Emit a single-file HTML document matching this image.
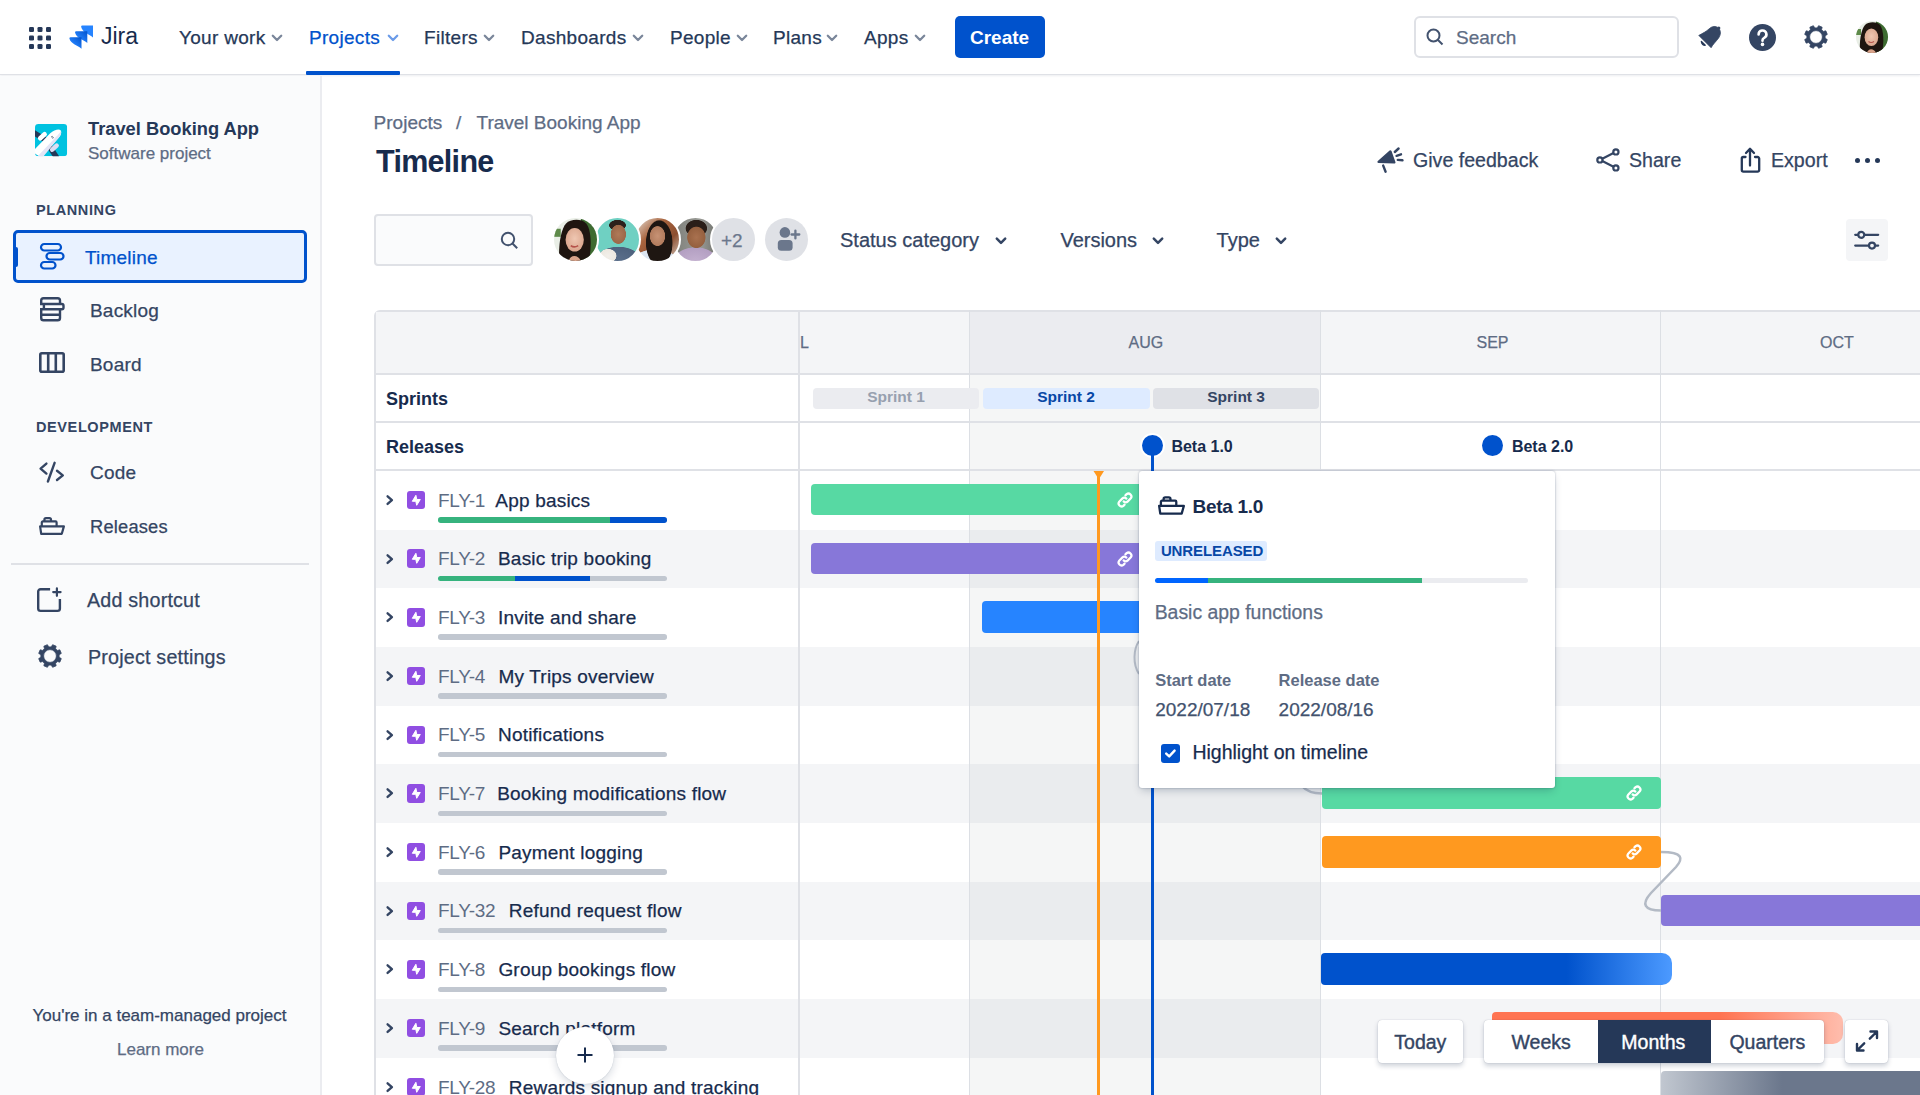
<!DOCTYPE html>
<html><head><meta charset="utf-8">
<style>
*{box-sizing:border-box;margin:0;padding:0}
html,body{width:1920px;height:1095px;overflow:hidden;background:#fff;font-family:"Liberation Sans",sans-serif;color:#172B4D}
.a{position:absolute}
.t{position:absolute;white-space:nowrap;line-height:1;-webkit-text-stroke:.25px currentColor}
svg{position:absolute;overflow:visible}
/* nav */
#nav{position:absolute;left:0;top:0;width:1920px;height:75px;background:#fff;border-bottom:1px solid #DFE1E6;box-shadow:0 1px 2px rgba(9,30,66,.08)}
.ni{font-size:19px;color:#253858;top:28px;letter-spacing:.3px}
.chev{width:11px;height:7px}
/* sidebar */
#side{position:absolute;left:0;top:76px;width:322px;height:1019px;background:#FAFBFC;border-right:2px solid #EBECF0}
.si{font-size:19px;color:#344563;letter-spacing:.2px}
.sh{font-size:14.5px;font-weight:700;color:#344563;letter-spacing:.6px}
.ab{font-size:19.6px;color:#344563;top:151px}
.av{position:absolute;top:218px;width:43px;height:43px;border-radius:50%;border:2px solid #fff;box-sizing:content-box;margin:-2px 0 0 -2px}
.fb{font-size:20px;color:#344563;top:230px}
.t[style*="font-weight:700"],.sh,.sp{-webkit-text-stroke:0}
</style></head>
<body>
<div id="nav">
  <!-- app grid -->
  <svg style="left:29px;top:27px" width="22" height="22" viewBox="0 0 22 22" fill="#253858">
    <rect x="0" y="0" width="5" height="5" rx="1.3"/><rect x="8.5" y="0" width="5" height="5" rx="1.3"/><rect x="17" y="0" width="5" height="5" rx="1.3"/>
    <rect x="0" y="8.5" width="5" height="5" rx="1.3"/><rect x="8.5" y="8.5" width="5" height="5" rx="1.3"/><rect x="17" y="8.5" width="5" height="5" rx="1.3"/>
    <rect x="0" y="17" width="5" height="5" rx="1.3"/><rect x="8.5" y="17" width="5" height="5" rx="1.3"/><rect x="17" y="17" width="5" height="5" rx="1.3"/>
  </svg>
  <!-- jira logo -->
  <svg style="left:0;top:0" width="160" height="75" viewBox="0 0 160 75">
    <defs><linearGradient id="jg" x1="1" y1="0" x2="0.3" y2="0.7"><stop offset="0" stop-color="#0052CC"/><stop offset="1" stop-color="#2684FF"/></linearGradient></defs><path d="M82.30 25.40H93.00V37.50C89.43 33.87 82.53 32.90 81.10 26.70Q81.10 25.40 82.30 25.40z" fill="#2684FF"/><path d="M76.20 31.25H87.30V43.10C83.61 39.55 76.48 38.60 75.00 32.55Q75.00 31.25 76.20 31.25z" fill="url(#jg)"/><path d="M70.60 37.30H81.50V48.75C77.87 45.31 70.85 44.40 69.40 38.60Q69.40 37.30 70.60 37.30z" fill="url(#jg)"/></svg>
  <div class="t" style="left:101px;top:25.3px;font-size:23px;color:#172B4D;-webkit-text-stroke:0">Jira</div>
  <div class="t ni" style="left:179px">Your work</div>
  <div class="t ni" style="left:309px;color:#0052CC">Projects</div>
  <div class="t ni" style="left:424px">Filters</div>
  <div class="t ni" style="left:521px">Dashboards</div>
  <div class="t ni" style="left:670px">People</div>
  <div class="t ni" style="left:773px">Plans</div>
  <div class="t ni" style="left:864px">Apps</div>
  <div class="a" style="left:306px;top:71px;width:94px;height:4px;background:#0052CC;border-radius:1px"></div>
  <div class="a" style="left:955px;top:16px;width:90px;height:42px;background:#0052CC;border-radius:5px"></div>
  <div class="t" style="left:970px;top:28px;font-size:19px;font-weight:700;color:#fff">Create</div>
<svg style="left:271px;top:34px" width="12" height="8" viewBox="0 0 12 8" fill="none" stroke="#7A869A" stroke-width="2.3" stroke-linecap="round" stroke-linejoin="round"><path d="M1.8 1.8L6 6L10.2 1.8"/></svg><svg style="left:386.5px;top:34px" width="12" height="8" viewBox="0 0 12 8" fill="none" stroke="#6B9BE8" stroke-width="2.3" stroke-linecap="round" stroke-linejoin="round"><path d="M1.8 1.8L6 6L10.2 1.8"/></svg><svg style="left:483px;top:34px" width="12" height="8" viewBox="0 0 12 8" fill="none" stroke="#7A869A" stroke-width="2.3" stroke-linecap="round" stroke-linejoin="round"><path d="M1.8 1.8L6 6L10.2 1.8"/></svg><svg style="left:632px;top:34px" width="12" height="8" viewBox="0 0 12 8" fill="none" stroke="#7A869A" stroke-width="2.3" stroke-linecap="round" stroke-linejoin="round"><path d="M1.8 1.8L6 6L10.2 1.8"/></svg><svg style="left:735.5px;top:34px" width="12" height="8" viewBox="0 0 12 8" fill="none" stroke="#7A869A" stroke-width="2.3" stroke-linecap="round" stroke-linejoin="round"><path d="M1.8 1.8L6 6L10.2 1.8"/></svg><svg style="left:826px;top:34px" width="12" height="8" viewBox="0 0 12 8" fill="none" stroke="#7A869A" stroke-width="2.3" stroke-linecap="round" stroke-linejoin="round"><path d="M1.8 1.8L6 6L10.2 1.8"/></svg><svg style="left:914px;top:34px" width="12" height="8" viewBox="0 0 12 8" fill="none" stroke="#7A869A" stroke-width="2.3" stroke-linecap="round" stroke-linejoin="round"><path d="M1.8 1.8L6 6L10.2 1.8"/></svg>
  <svg style="left:0;top:0" width="1920" height="75" viewBox="0 0 1920 75">
    <path d="M1698.8 35.4C1703 33.2 1706.2 31.6 1709.2 28.8C1712.2 26 1716 25.6 1718.6 28.2C1721.2 30.8 1720.8 35 1718.6 38C1715.6 42 1713 44.2 1711.1 47.7Z" fill="#344563" stroke="#344563" stroke-width="0.8" stroke-linejoin="round"/>
    <circle cx="1718.8" cy="28" r="1.6" fill="#344563"/>
    <path d="M1701.4 41.6C1701.4 44 1703.6 45.4 1705.2 45.2Z" fill="#253858" stroke="#253858" stroke-width="1.4" stroke-linejoin="round"/>
  </svg>
  <div class="a" style="left:1749px;top:24px;width:27px;height:27px;border-radius:50%;background:#344563"></div>
  <svg style="left:1749px;top:24px" width="27" height="27" viewBox="0 0 27 27" fill="none" stroke="#fff" stroke-width="2.6" stroke-linecap="round">
    <path d="M9.6 10.4a3.9 3.9 0 1 1 5.6 3.5c-1 .5-1.7 1.2-1.7 2.3v.6"/>
    <circle cx="13.5" cy="20.4" r="1.8" fill="#fff" stroke="none"/>
  </svg>
  <svg style="left:1803.5px;top:24.6px" width="24" height="24" viewBox="0 0 24 24">
    <path fill="#344563" fill-rule="evenodd" stroke="#344563" stroke-width="0.8" stroke-linejoin="round" d="M13.22 2.88 L14.62 0.70 L18.14 2.16 L17.58 4.69 L19.31 6.42 L21.84 5.86 L23.30 9.38 L21.12 10.78 L21.12 13.22 L23.30 14.62 L21.84 18.14 L19.31 17.58 L17.58 19.31 L18.14 21.84 L14.62 23.30 L13.22 21.12 L10.78 21.12 L9.38 23.30 L5.86 21.84 L6.42 19.31 L4.69 17.58 L2.16 18.14 L0.70 14.62 L2.88 13.22 L2.88 10.78 L0.70 9.38 L2.16 5.86 L4.69 6.42 L6.42 4.69 L5.86 2.16 L9.38 0.70 L10.78 2.88ZM5.60 12.00a6.4 6.4 0 1 0 12.80 0a6.4 6.4 0 1 0 -12.80 0z"/>
  </svg>
  <svg style="left:1856px;top:21px" width="32" height="32" viewBox="0 0 32 32"><defs><clipPath id="avn"><circle cx="16" cy="16" r="16"/></clipPath><radialGradient id="avnf" cx="0.5" cy="0.45" r="0.6"><stop offset="0" stop-color="#EFC7B2"/><stop offset="1" stop-color="#D9A38A"/></radialGradient></defs><g clip-path="url(#avn)"><rect width="32" height="32" fill="#E9EEE6"/><rect x="20" y="0" width="12" height="32" fill="#3E6B31"/><rect x="0" y="8" width="5" height="6" fill="#5E8A4A"/><path d="M4 32C3 22 5 8 9 4C12 1 20 0 24 4C28 9 28 22 26 32z" fill="#1F1510"/><ellipse cx="15.4" cy="16.2" rx="6.8" ry="8.8" fill="url(#avnf)"/><path d="M11 32C12 27 18 27 20 32z" fill="#D9A38A"/><path d="M12.5 20.5Q15 22.5 18 20.5" stroke="#B5524A" stroke-width="1.2" fill="none"/></g></svg>
  <!-- search -->
  <div class="a" style="left:1414px;top:16px;width:265px;height:42px;border:2px solid #DFE1E6;border-radius:6px;background:#fff"></div>
  <svg style="left:1426px;top:28px" width="18" height="18" viewBox="0 0 18 18" fill="none" stroke="#42526E" stroke-width="2"><circle cx="7.5" cy="7.5" r="6"/><path d="M12 12l4.5 4.5"/></svg>
  <div class="t" style="left:1456px;top:28px;font-size:19px;color:#5E6C84">Search</div>
</div>

<div id="side"></div>
<!-- project icon -->
<svg style="left:34.8px;top:123.9px" width="32.2" height="32.2" viewBox="0 0 32.2 32.2">
  <defs><clipPath id="pc"><rect width="32.2" height="32.2" rx="3.5"/></clipPath></defs>
  <g clip-path="url(#pc)">
  <rect width="32.2" height="32.2" fill="#00C2E0"/>
  <line x1="-3" y1="7.5" x2="13" y2="17.5" stroke="#253858" stroke-width="5.5"/>
  <line x1="13.5" y1="21" x2="22" y2="34" stroke="#253858" stroke-width="5.5"/>
  <line x1="5.2" y1="14.2" x2="9.6" y2="10.2" stroke="#fff" stroke-width="4.6" stroke-linecap="round"/>
  <line x1="17.2" y1="25.6" x2="21.6" y2="21.6" stroke="#DCDDF3" stroke-width="4.6" stroke-linecap="round"/>
  <path d="M-3 28L15 9.6C19 5.8 24 4.6 25.6 6.2C27 7.8 26 11.5 24 13.5L6 33z" fill="#fff"/>
  <path d="M2 33L19.5 14.5C22.5 11.5 25.5 8.5 25.8 6.8C26.8 9 25.5 12 23.5 14L8 33z" fill="#E3E5F6"/>
  <line x1="16.6" y1="12.4" x2="18.6" y2="14.4" stroke="#42526E" stroke-width="1.6" stroke-dasharray="0.9 0.6"/>
  </g>
</svg>
<div class="t" style="left:88px;top:120px;font-size:18.3px;font-weight:700;color:#253858">Travel Booking App</div>
<div class="t" style="left:88px;top:145px;font-size:17px;color:#5E6C84">Software project</div>
<div class="t sh" style="left:36px;top:203px">PLANNING</div>
<div class="a" style="left:13px;top:230px;width:294px;height:53px;border:3px solid #0052CC;border-radius:5px;background:#E9F2FF"></div>
<div class="a" style="left:14px;top:247px;width:4px;height:20px;background:#0052CC;border-radius:0 2px 2px 0"></div>
<svg style="left:39px;top:242px" width="26" height="29" viewBox="0 0 26 29" fill="none" stroke="#0052CC" stroke-width="2.2">
  <rect x="2" y="2" width="20" height="6.5" rx="3.25"/><rect x="7.5" y="11" width="17" height="6.5" rx="3.25"/><rect x="2" y="20" width="14.5" height="6.5" rx="3.25"/>
</svg>
<div class="t si" style="left:85px;top:247.5px;color:#0052CC">Timeline</div>
<svg style="left:40px;top:297px" width="25" height="25" viewBox="0 0 25 25" fill="none" stroke="#344563" stroke-width="2.4" stroke-linejoin="round"><path d="M1.2 7V3.5a2.3 2.3 0 0 1 2.3-2.3h14.2a2.3 2.3 0 0 1 2.3 2.3V7"/><path d="M0 7H21.8a1.7 1.7 0 0 1 1.7 1.7v1.8a1.7 1.7 0 0 1-1.7 1.7H0M3.9 7V12.2"/><path d="M1.2 12.2V20.9a2.3 2.3 0 0 0 2.3 2.3h14.2a2.3 2.3 0 0 0 2.3-2.3V12.2M1.2 17.7H20"/></svg>
<div class="t si" style="left:90px;top:301.3px">Backlog</div>
<svg style="left:39px;top:352px" width="26" height="21" viewBox="0 0 26 21" fill="none" stroke="#344563" stroke-width="2.6">
  <rect x="1.3" y="1.3" width="23.4" height="18.4" rx="1.5"/><path d="M9.2 1.3v18.4M16.8 1.3v18.4"/>
</svg>
<div class="t si" style="left:90px;top:355px">Board</div>
<div class="t sh" style="left:36px;top:420.2px">DEVELOPMENT</div>
<svg style="left:0;top:0" width="100" height="600" viewBox="0 0 100 600" fill="none" stroke="#344563" stroke-width="2.4" stroke-linecap="round" stroke-linejoin="round"><path d="M46.4 463.6L40.6 468.6L46.4 473.6M57 470.8L62.8 475.4L57 480M54.6 462.8L47.9 481.5"/></svg>
<div class="t si" style="left:90px;top:463.4px">Code</div>
<svg style="left:39px;top:516.5px" width="26" height="18" viewBox="0 0 26 18" fill="none" stroke="#344563" stroke-width="2.2" stroke-linejoin="round"><path d="M5.4 4.4V2.8a1.6 1.6 0 0 1 1.6-1.6h3.4a1.6 1.6 0 0 1 1.6 1.6V4.4"/><path d="M2.8 9.4V5.4a1 1 0 0 1 1-1H16.6a1 1 0 0 1 1 1V9.4"/><path d="M1.1 9.4H24.9L22.8 16.8H2.2z"/></svg>
<div class="t si" style="left:90px;top:517.5px;font-size:18.3px">Releases</div>
<div class="a" style="left:11px;top:563px;width:298px;height:2px;background:#DFE1E6"></div>
<svg style="left:37.3px;top:588px" width="25" height="25" viewBox="0 0 25 25" fill="none" stroke="#344563" stroke-width="2.4" stroke-linecap="butt"><path d="M13.1 1.2H3.6a2.4 2.4 0 0 0-2.4 2.4v16.9a2.4 2.4 0 0 0 2.4 2.4h16.9a2.4 2.4 0 0 0 2.4-2.4V11"/><path d="M19.9 0.4v7.4M16.2 4.1h7.4" stroke-width="2.2" stroke-linecap="round"/></svg>
<div class="t si" style="left:87px;top:591.4px;font-size:19.7px">Add shortcut</div>
<svg style="left:38.3px;top:643.5px" width="24" height="24" viewBox="0 0 24 24">
  <path fill="#344563" fill-rule="evenodd" stroke="#344563" stroke-width="0.8" stroke-linejoin="round" d="M13.22 2.88 L14.62 0.70 L18.14 2.16 L17.58 4.69 L19.31 6.42 L21.84 5.86 L23.30 9.38 L21.12 10.78 L21.12 13.22 L23.30 14.62 L21.84 18.14 L19.31 17.58 L17.58 19.31 L18.14 21.84 L14.62 23.30 L13.22 21.12 L10.78 21.12 L9.38 23.30 L5.86 21.84 L6.42 19.31 L4.69 17.58 L2.16 18.14 L0.70 14.62 L2.88 13.22 L2.88 10.78 L0.70 9.38 L2.16 5.86 L4.69 6.42 L6.42 4.69 L5.86 2.16 L9.38 0.70 L10.78 2.88ZM5.60 12.00a6.4 6.4 0 1 0 12.80 0a6.4 6.4 0 1 0 -12.80 0z"/>
</svg>
<div class="t si" style="left:88px;top:647.6px;font-size:19.7px">Project settings</div>
<div class="t" style="left:32.5px;top:1007.2px;font-size:17px;color:#344563">You're in a team-managed project</div>
<div class="t" style="left:117px;top:1041.4px;font-size:17px;color:#5E6C84;font-weight:400">Learn more</div>

<div id="main">
<div class="t" style="left:373.6px;top:113.2px;font-size:19px;color:#5E6C84">Projects</div>
<div class="t" style="left:456px;top:113.2px;font-size:19px;color:#5E6C84">/</div>
<div class="t" style="left:476.5px;top:113.2px;font-size:19px;color:#5E6C84">Travel Booking App</div>
<div class="t" style="left:376px;top:145.6px;font-size:30.5px;font-weight:700;color:#172B4D;letter-spacing:-.7px">Timeline</div>
<!-- actions -->
<svg style="left:1376px;top:146px" width="28" height="28" viewBox="1376 146 28 28" fill="none" stroke="#344563" stroke-width="2.4" stroke-linecap="round">
  <path d="M1378.6 161.8L1390.4 151.5L1394.3 162.3z" fill="#344563" stroke-linejoin="round"/>
  <path d="M1383.2 165.6L1385.6 171.7M1394.8 152L1398.6 148.5M1396.6 155.8L1401 154.3M1397.8 159.9L1402.5 160.3"/>
</svg>
<div class="t ab" style="left:1413px">Give feedback</div>
<svg style="left:1594px;top:146px" width="28" height="28" viewBox="1594 146 28 28" fill="none" stroke="#344563" stroke-width="2.2">
  <circle cx="1599.9" cy="159.9" r="2.6"/><circle cx="1615.9" cy="151.9" r="2.6"/><circle cx="1615.9" cy="167.9" r="2.6"/><path d="M1602.3 158.7L1613.5 153.1M1602.3 161.1L1613.5 166.7"/>
</svg>
<div class="t ab" style="left:1629px">Share</div>
<svg style="left:1738px;top:146px" width="24" height="28" viewBox="1738 146 24 28" fill="none" stroke="#253858" stroke-width="2.3" stroke-linecap="round" stroke-linejoin="round">
  <path d="M1745.5 157H1743.3a1.6 1.6 0 0 0-1.5 1.6v11.5a1.6 1.6 0 0 0 1.6 1.6h14.2a1.6 1.6 0 0 0 1.6-1.6V158.6a1.6 1.6 0 0 0-1.6-1.6H1755"/><path d="M1750 165.5V148.8M1746 153L1750 148.8L1754 153"/>
</svg>
<div class="t ab" style="left:1771px">Export</div>
<div class="a" style="left:1855px;top:157.5px;width:5px;height:5px;border-radius:50%;background:#253858"></div>
<div class="a" style="left:1865px;top:157.5px;width:5px;height:5px;border-radius:50%;background:#253858"></div>
<div class="a" style="left:1875px;top:157.5px;width:5px;height:5px;border-radius:50%;background:#253858"></div>
<!-- filter row -->
<div class="a" style="left:374px;top:214px;width:159px;height:52px;border:2px solid #DFE1E6;border-radius:4px;background:#FAFBFC"></div>
<svg style="left:500px;top:231px" width="19" height="19" viewBox="0 0 19 19" fill="none" stroke="#42526E" stroke-width="2"><circle cx="8" cy="8" r="6.2"/><path d="M12.5 12.5L17.2 17.2"/></svg>
<div class="av" style="left:674px;background:radial-gradient(ellipse 24% 28% at 52% 45%,#A9714F 0,#95603F 85%,transparent 92%),radial-gradient(ellipse 28% 22% at 52% 24%,#2A1E18 0,#2A1E18 85%,transparent 92%),radial-gradient(ellipse 55% 35% at 50% 100%,#C3B0CF 0,#B39FC2 88%,transparent 93%),linear-gradient(90deg,#7D7F7A 0,#9A9B96 60%,#6F716C 100%)"></div>
<div class="av" style="left:636px;background:radial-gradient(ellipse 20% 26% at 50% 42%,#C79274 0,#B27C5E 85%,transparent 92%),radial-gradient(ellipse 34% 58% at 54% 58%,#1E1612 0,#1E1612 88%,transparent 93%),radial-gradient(ellipse 55% 30% at 45% 100%,#DCE6F2 0,#DCE6F2 88%,transparent 93%),linear-gradient(135deg,#E8E2DA 0,#A8643E 35%,#8C4E30 65%,#D9CFC4 100%)"></div>
<div class="av" style="left:596px;background:radial-gradient(ellipse 20% 25% at 52% 38%,#B07A58 0,#9C6849 85%,transparent 92%),radial-gradient(ellipse 22% 14% at 50% 17%,#2B211C 0,#2B211C 85%,transparent 92%),radial-gradient(ellipse 22% 18% at 28% 88%,#F2EFEA 0,#EDE8E0 85%,transparent 92%),radial-gradient(ellipse 55% 32% at 52% 96%,#5A6E8A 0,#4E627E 88%,transparent 93%),#6FD0C2"></div>
<div class="av" style="left:554px;background:#fff"></div><svg style="left:554px;top:218px" width="43" height="43" viewBox="0 0 32 32"><defs><clipPath id="av1"><circle cx="16" cy="16" r="16"/></clipPath><radialGradient id="av1f" cx="0.5" cy="0.45" r="0.6"><stop offset="0" stop-color="#EFC7B2"/><stop offset="1" stop-color="#D9A38A"/></radialGradient></defs><g clip-path="url(#av1)"><rect width="32" height="32" fill="#E9EEE6"/><rect x="20" y="0" width="12" height="32" fill="#3E6B31"/><rect x="0" y="8" width="5" height="6" fill="#5E8A4A"/><path d="M4 32C3 22 5 8 9 4C12 1 20 0 24 4C28 9 28 22 26 32z" fill="#1F1510"/><ellipse cx="15.4" cy="16.2" rx="6.8" ry="8.8" fill="url(#av1f)"/><path d="M11 32C12 27 18 27 20 32z" fill="#D9A38A"/><path d="M12.5 20.5Q15 22.5 18 20.5" stroke="#B5524A" stroke-width="1.2" fill="none"/></g></svg>
<div class="av" style="left:712px;background:#DFE1E6"></div>
<div class="t" style="left:721px;top:231px;font-size:19px;color:#6B778C">+2</div>
<div class="a" style="left:765px;top:218px;width:43px;height:43px;border-radius:50%;background:#DFE1E6"></div>
<svg style="left:776px;top:227px" width="26" height="26" viewBox="0 0 26 26" fill="#6B778C"><circle cx="8.9" cy="5.4" r="5.3"/><rect x="1.8" y="13.1" width="14.8" height="10.6" rx="3.5"/><path d="M19.4 3.6v7.8M15.5 7.5h7.8" stroke="#6B778C" stroke-width="2.3" stroke-linecap="round"/></svg>
<div class="t fb" style="left:840px">Status category</div>
<div class="t fb" style="left:1060.4px">Versions</div>
<div class="t fb" style="left:1216.6px">Type</div>
<svg style="left:995px;top:236px" width="12" height="10" viewBox="0 0 12 10" fill="none" stroke="#344563" stroke-width="2.5" stroke-linecap="round" stroke-linejoin="round"><path d="M1.8 2.6L6 6.8L10.2 2.6"/></svg>
<svg style="left:1152px;top:236px" width="12" height="10" viewBox="0 0 12 10" fill="none" stroke="#344563" stroke-width="2.5" stroke-linecap="round" stroke-linejoin="round"><path d="M1.8 2.6L6 6.8L10.2 2.6"/></svg>
<svg style="left:1275px;top:236px" width="12" height="10" viewBox="0 0 12 10" fill="none" stroke="#344563" stroke-width="2.5" stroke-linecap="round" stroke-linejoin="round"><path d="M1.8 2.6L6 6.8L10.2 2.6"/></svg>
<div class="a" style="left:1845.7px;top:219px;width:42.2px;height:42.2px;border-radius:4px;background:#F4F5F7"></div>
<svg style="left:1852px;top:228px" width="30" height="24" viewBox="0 0 30 24" fill="none" stroke="#344563" stroke-width="2.2" stroke-linecap="round"><path d="M3.2 6.8h2.8M12.6 6.8h13.6M3.2 17.6h13.5M23.4 17.6h2.8"/><circle cx="9.3" cy="6.8" r="3"/><circle cx="20" cy="17.6" r="3"/></svg>
</div>
<style>
.ml{top:335.3px;font-size:16px;color:#5E6C84}
.sp{top:387.5px;height:21px;border-radius:4px;font-size:15.5px;font-weight:700;text-align:center;line-height:18.6px}
.ep{left:406.7px;width:18.4px;height:18.4px;border-radius:3px;background:#904EE2}
.rid{font-size:19px;color:#5E6C84;letter-spacing:-.3px;-webkit-text-stroke:0}
.rtl{font-size:19px;color:#172B4D;letter-spacing:.2px}
.pb{left:437.5px;width:229.2px;height:5.5px;border-radius:2.75px}
.bar{height:31.6px;border-radius:4px}
.rel{width:21px;height:21px;border-radius:50%;background:#0052CC;box-shadow:0 0 0 2px #fff}
.btn{top:1020.2px;height:42.6px;background:#fff;border-radius:4px;box-shadow:0 3px 5px rgba(9,30,66,.2),0 0 1px rgba(9,30,66,.31)}
.bt{top:1033px;font-size:19.5px;color:#344563;-webkit-text-stroke:.4px currentColor}
</style>
<div id="grid">
<div class="a" style="left:374px;top:310px;width:1556px;height:795px;border:2px solid #DFE1E6;border-radius:6px 0 0 0;background:#fff;overflow:hidden"></div>
<div class="a" style="left:376px;top:529.68px;width:1546px;height:58.68px;background:#F4F5F7"></div>
<div class="a" style="left:376px;top:647.04px;width:1546px;height:58.68px;background:#F4F5F7"></div>
<div class="a" style="left:376px;top:764.40px;width:1546px;height:58.68px;background:#F4F5F7"></div>
<div class="a" style="left:376px;top:881.76px;width:1546px;height:58.68px;background:#F4F5F7"></div>
<div class="a" style="left:376px;top:999.12px;width:1546px;height:58.68px;background:#F4F5F7"></div>
<div class="a" style="left:376px;top:312px;width:1546px;height:62px;background:#F4F5F7"></div>
<div class="a" style="left:969.4px;top:312px;width:351.0px;height:62px;background:#EBECF0"></div>
<div class="a" style="left:969.4px;top:374px;width:351.0px;height:721px;background:rgba(10,20,35,.04)"></div>
<div class="a" style="left:374px;top:373px;width:1546px;height:2px;background:#DFE1E6"></div>
<div class="a" style="left:374px;top:421px;width:1546px;height:2px;background:#DFE1E6"></div>
<div class="a" style="left:374px;top:469px;width:1546px;height:2px;background:#DFE1E6"></div>
<div class="a" style="left:797.8px;top:310px;width:2px;height:785px;background:#DFE1E6"></div>
<div class="a" style="left:968.9px;top:310px;width:1px;height:785px;background:#DCDFE4"></div>
<div class="a" style="left:1319.9px;top:310px;width:1px;height:785px;background:#DCDFE4"></div>
<div class="a" style="left:1660.2px;top:310px;width:1px;height:785px;background:#DCDFE4"></div>
<div class="t ml" style="left:800px">L</div>
<div class="t ml" style="left:1128.5px">AUG</div>
<div class="t ml" style="left:1476.5px">SEP</div>
<div class="t ml" style="left:1820px">OCT</div>
<div class="t" style="left:386px;top:389.5px;font-size:18px;font-weight:700;color:#172B4D">Sprints</div>
<div class="t" style="left:386px;top:438px;font-size:18px;font-weight:700;color:#172B4D">Releases</div>
<div class="a sp" style="left:813px;width:166.0px;background:#EBECF0;color:#97A0AF">Sprint 1</div>
<div class="a sp" style="left:982.5px;width:167.1px;background:#DEEBFF;color:#0747A6">Sprint 2</div>
<div class="a sp" style="left:1152.7px;width:166.8px;background:#DFE1E6;color:#344563">Sprint 3</div>
<svg style="left:384px;top:494.00px" width="12" height="12" viewBox="0 0 12 12" fill="none" stroke="#344563" stroke-width="2.4" stroke-linecap="round" stroke-linejoin="round"><path d="M3.6 2.3L7.9 6.1L3.6 9.9"/></svg>
<div class="a ep" style="top:490.80px"><svg style="left:0;top:0" width="18.4" height="18.4" viewBox="0 0 18.4 18.4"><path d="M8.9 4.3L5.3 10.3H8.8L9.7 14.3L13.3 8.5H9.8z" fill="#fff" stroke="#fff" stroke-width="1" stroke-linejoin="round"/></svg></div>
<div class="t rid" style="left:438px;top:490.70px">FLY-1</div>
<div class="t rtl" style="left:495.3px;top:490.70px">App basics</div>
<div class="a pb" style="top:517.10px;background:linear-gradient(90deg,#36B37E 0,#36B37E 171.7px,#0052CC 171.7px)"></div>
<svg style="left:384px;top:552.68px" width="12" height="12" viewBox="0 0 12 12" fill="none" stroke="#344563" stroke-width="2.4" stroke-linecap="round" stroke-linejoin="round"><path d="M3.6 2.3L7.9 6.1L3.6 9.9"/></svg>
<div class="a ep" style="top:549.48px"><svg style="left:0;top:0" width="18.4" height="18.4" viewBox="0 0 18.4 18.4"><path d="M8.9 4.3L5.3 10.3H8.8L9.7 14.3L13.3 8.5H9.8z" fill="#fff" stroke="#fff" stroke-width="1" stroke-linejoin="round"/></svg></div>
<div class="t rid" style="left:438px;top:549.38px">FLY-2</div>
<div class="t rtl" style="left:498px;top:549.38px">Basic trip booking</div>
<div class="a pb" style="top:575.78px;background:linear-gradient(90deg,#36B37E 0,#36B37E 76.7px,#0052CC 76.7px,#0052CC 152.2px,#C1C7D0 152.2px)"></div>
<svg style="left:384px;top:611.36px" width="12" height="12" viewBox="0 0 12 12" fill="none" stroke="#344563" stroke-width="2.4" stroke-linecap="round" stroke-linejoin="round"><path d="M3.6 2.3L7.9 6.1L3.6 9.9"/></svg>
<div class="a ep" style="top:608.16px"><svg style="left:0;top:0" width="18.4" height="18.4" viewBox="0 0 18.4 18.4"><path d="M8.9 4.3L5.3 10.3H8.8L9.7 14.3L13.3 8.5H9.8z" fill="#fff" stroke="#fff" stroke-width="1" stroke-linejoin="round"/></svg></div>
<div class="t rid" style="left:438px;top:608.06px">FLY-3</div>
<div class="t rtl" style="left:498px;top:608.06px">Invite and share</div>
<div class="a pb" style="top:634.46px;background:#C1C7D0"></div>
<svg style="left:384px;top:670.04px" width="12" height="12" viewBox="0 0 12 12" fill="none" stroke="#344563" stroke-width="2.4" stroke-linecap="round" stroke-linejoin="round"><path d="M3.6 2.3L7.9 6.1L3.6 9.9"/></svg>
<div class="a ep" style="top:666.84px"><svg style="left:0;top:0" width="18.4" height="18.4" viewBox="0 0 18.4 18.4"><path d="M8.9 4.3L5.3 10.3H8.8L9.7 14.3L13.3 8.5H9.8z" fill="#fff" stroke="#fff" stroke-width="1" stroke-linejoin="round"/></svg></div>
<div class="t rid" style="left:438px;top:666.74px">FLY-4</div>
<div class="t rtl" style="left:498.4px;top:666.74px">My Trips overview</div>
<div class="a pb" style="top:693.14px;background:#C1C7D0"></div>
<svg style="left:384px;top:728.72px" width="12" height="12" viewBox="0 0 12 12" fill="none" stroke="#344563" stroke-width="2.4" stroke-linecap="round" stroke-linejoin="round"><path d="M3.6 2.3L7.9 6.1L3.6 9.9"/></svg>
<div class="a ep" style="top:725.52px"><svg style="left:0;top:0" width="18.4" height="18.4" viewBox="0 0 18.4 18.4"><path d="M8.9 4.3L5.3 10.3H8.8L9.7 14.3L13.3 8.5H9.8z" fill="#fff" stroke="#fff" stroke-width="1" stroke-linejoin="round"/></svg></div>
<div class="t rid" style="left:438px;top:725.42px">FLY-5</div>
<div class="t rtl" style="left:498px;top:725.42px">Notifications</div>
<div class="a pb" style="top:751.82px;background:#C1C7D0"></div>
<svg style="left:384px;top:787.40px" width="12" height="12" viewBox="0 0 12 12" fill="none" stroke="#344563" stroke-width="2.4" stroke-linecap="round" stroke-linejoin="round"><path d="M3.6 2.3L7.9 6.1L3.6 9.9"/></svg>
<div class="a ep" style="top:784.20px"><svg style="left:0;top:0" width="18.4" height="18.4" viewBox="0 0 18.4 18.4"><path d="M8.9 4.3L5.3 10.3H8.8L9.7 14.3L13.3 8.5H9.8z" fill="#fff" stroke="#fff" stroke-width="1" stroke-linejoin="round"/></svg></div>
<div class="t rid" style="left:438px;top:784.10px">FLY-7</div>
<div class="t rtl" style="left:497.2px;top:784.10px">Booking modifications flow</div>
<div class="a pb" style="top:810.50px;background:#C1C7D0"></div>
<svg style="left:384px;top:846.08px" width="12" height="12" viewBox="0 0 12 12" fill="none" stroke="#344563" stroke-width="2.4" stroke-linecap="round" stroke-linejoin="round"><path d="M3.6 2.3L7.9 6.1L3.6 9.9"/></svg>
<div class="a ep" style="top:842.88px"><svg style="left:0;top:0" width="18.4" height="18.4" viewBox="0 0 18.4 18.4"><path d="M8.9 4.3L5.3 10.3H8.8L9.7 14.3L13.3 8.5H9.8z" fill="#fff" stroke="#fff" stroke-width="1" stroke-linejoin="round"/></svg></div>
<div class="t rid" style="left:438px;top:842.78px">FLY-6</div>
<div class="t rtl" style="left:498.4px;top:842.78px">Payment logging</div>
<div class="a pb" style="top:869.18px;background:#C1C7D0"></div>
<svg style="left:384px;top:904.76px" width="12" height="12" viewBox="0 0 12 12" fill="none" stroke="#344563" stroke-width="2.4" stroke-linecap="round" stroke-linejoin="round"><path d="M3.6 2.3L7.9 6.1L3.6 9.9"/></svg>
<div class="a ep" style="top:901.56px"><svg style="left:0;top:0" width="18.4" height="18.4" viewBox="0 0 18.4 18.4"><path d="M8.9 4.3L5.3 10.3H8.8L9.7 14.3L13.3 8.5H9.8z" fill="#fff" stroke="#fff" stroke-width="1" stroke-linejoin="round"/></svg></div>
<div class="t rid" style="left:438px;top:901.46px">FLY-32</div>
<div class="t rtl" style="left:508.8px;top:901.46px">Refund request flow</div>
<div class="a pb" style="top:927.86px;background:#C1C7D0"></div>
<svg style="left:384px;top:963.44px" width="12" height="12" viewBox="0 0 12 12" fill="none" stroke="#344563" stroke-width="2.4" stroke-linecap="round" stroke-linejoin="round"><path d="M3.6 2.3L7.9 6.1L3.6 9.9"/></svg>
<div class="a ep" style="top:960.24px"><svg style="left:0;top:0" width="18.4" height="18.4" viewBox="0 0 18.4 18.4"><path d="M8.9 4.3L5.3 10.3H8.8L9.7 14.3L13.3 8.5H9.8z" fill="#fff" stroke="#fff" stroke-width="1" stroke-linejoin="round"/></svg></div>
<div class="t rid" style="left:438px;top:960.14px">FLY-8</div>
<div class="t rtl" style="left:498.4px;top:960.14px">Group bookings flow</div>
<div class="a pb" style="top:986.54px;background:#C1C7D0"></div>
<svg style="left:384px;top:1022.12px" width="12" height="12" viewBox="0 0 12 12" fill="none" stroke="#344563" stroke-width="2.4" stroke-linecap="round" stroke-linejoin="round"><path d="M3.6 2.3L7.9 6.1L3.6 9.9"/></svg>
<div class="a ep" style="top:1018.92px"><svg style="left:0;top:0" width="18.4" height="18.4" viewBox="0 0 18.4 18.4"><path d="M8.9 4.3L5.3 10.3H8.8L9.7 14.3L13.3 8.5H9.8z" fill="#fff" stroke="#fff" stroke-width="1" stroke-linejoin="round"/></svg></div>
<div class="t rid" style="left:438px;top:1018.82px">FLY-9</div>
<div class="t rtl" style="left:498.4px;top:1018.82px">Search platform</div>
<div class="a pb" style="top:1045.22px;background:#C1C7D0"></div>
<svg style="left:384px;top:1080.80px" width="12" height="12" viewBox="0 0 12 12" fill="none" stroke="#344563" stroke-width="2.4" stroke-linecap="round" stroke-linejoin="round"><path d="M3.6 2.3L7.9 6.1L3.6 9.9"/></svg>
<div class="a ep" style="top:1077.60px"><svg style="left:0;top:0" width="18.4" height="18.4" viewBox="0 0 18.4 18.4"><path d="M8.9 4.3L5.3 10.3H8.8L9.7 14.3L13.3 8.5H9.8z" fill="#fff" stroke="#fff" stroke-width="1" stroke-linejoin="round"/></svg></div>
<div class="t rid" style="left:438px;top:1077.50px">FLY-28</div>
<div class="t rtl" style="left:508.8px;top:1077.50px">Rewards signup and tracking</div>
<div class="a pb" style="top:1103.90px;background:#C1C7D0"></div>
<div class="a bar" style="left:811.1px;top:483.90px;width:348.9px;background:#57D9A3;"></div>
<div class="a bar" style="left:811.1px;top:542.58px;width:348.9px;background:#8777D9;"></div>
<div class="a bar" style="left:981.6px;top:601.26px;width:178.4px;background:#2684FF;"></div>
<svg style="left:1115.5px;top:491.0px" width="18" height="18" viewBox="0 0 18 18" fill="none" stroke="#fff" stroke-width="2.2" stroke-linecap="round"><path d="M7.6 10.4a3 3 0 0 0 4.2 0l3-3a3 3 0 0 0-4.2-4.2l-1.2 1.2"/><path d="M10.4 7.6a3 3 0 0 0-4.2 0l-3 3a3 3 0 0 0 4.2 4.2l1.2-1.2"/></svg>
<svg style="left:1115.5px;top:549.68px" width="18" height="18" viewBox="0 0 18 18" fill="none" stroke="#fff" stroke-width="2.2" stroke-linecap="round"><path d="M7.6 10.4a3 3 0 0 0 4.2 0l3-3a3 3 0 0 0-4.2-4.2l-1.2 1.2"/><path d="M10.4 7.6a3 3 0 0 0-4.2 0l-3 3a3 3 0 0 0 4.2 4.2l1.2-1.2"/></svg>
<div class="a bar" style="left:1321.5px;top:777.30px;width:339.7px;background:#57D9A3;"></div>
<div class="a bar" style="left:1321.5px;top:835.98px;width:339.7px;background:#FF991F;"></div>
<svg style="left:1625px;top:784.4px" width="18" height="18" viewBox="0 0 18 18" fill="none" stroke="#fff" stroke-width="2.2" stroke-linecap="round"><path d="M7.6 10.4a3 3 0 0 0 4.2 0l3-3a3 3 0 0 0-4.2-4.2l-1.2 1.2"/><path d="M10.4 7.6a3 3 0 0 0-4.2 0l-3 3a3 3 0 0 0 4.2 4.2l1.2-1.2"/></svg>
<svg style="left:1625px;top:843.0799999999999px" width="18" height="18" viewBox="0 0 18 18" fill="none" stroke="#fff" stroke-width="2.2" stroke-linecap="round"><path d="M7.6 10.4a3 3 0 0 0 4.2 0l3-3a3 3 0 0 0-4.2-4.2l-1.2 1.2"/><path d="M10.4 7.6a3 3 0 0 0-4.2 0l-3 3a3 3 0 0 0 4.2 4.2l1.2-1.2"/></svg>
<div class="a bar" style="left:1661px;top:894.66px;width:269.0px;background:#8777D9;"></div>
<div class="a bar" style="left:1321px;top:953.34px;width:351.3px;background:linear-gradient(90deg,#0052CC 0,#0052CC 70%,#4C9AFF 100%);border-radius:4px 10px 10px 4px"></div>
<div class="a bar" style="left:1491.5px;top:1012.02px;width:351.0px;background:linear-gradient(90deg,#FF7452 0,#FF7452 65%,#FFBDAD 100%);border-radius:4px 10px 10px 4px"></div>
<div class="a bar" style="left:1661px;top:1070.70px;width:269.0px;background:linear-gradient(90deg,#C1C7D0 0,#6B778C 45%,#6B778C 100%);"></div>
<svg style="left:0;top:0" width="1920" height="1095" viewBox="0 0 1920 1095" fill="none" stroke="#B3BAC5" stroke-width="2.5"><path d="M1661 852C1684 852 1683 859 1676 867L1651 893C1641 904 1644 910.5 1661 910.5"/><path d="M1139 641C1133.5 649 1132.5 664 1139 674" stroke-width="2"/><path d="M1302 786C1307 792 1314 793.5 1322 793.5"/></svg>
<div class="a rel" style="left:1142.1px;top:435.3px"></div>
<div class="a" style="left:1151.3px;top:455px;width:2.6px;height:640px;background:#0052CC"></div>
<div class="t" style="left:1171.4px;top:438.6px;font-size:16px;font-weight:700;color:#172B4D">Beta 1.0</div>
<div class="a rel" style="left:1481.6px;top:435.3px"></div>
<div class="t" style="left:1511.9px;top:438.6px;font-size:16px;font-weight:700;color:#172B4D">Beta 2.0</div>
<div class="a" style="left:1097.4px;top:471px;width:2.7px;height:624px;background:#FF991F"></div>
<svg style="left:1093px;top:471px" width="12" height="10" viewBox="0 0 12 10"><path d="M0.5 0H11L5.8 8.2z" fill="#FF991F"/></svg>
<div class="a" style="left:1139px;top:471px;width:415.8px;height:317px;background:#fff;border-radius:3px;box-shadow:0 4px 8px -2px rgba(9,30,66,.25),0 0 2px rgba(9,30,66,.35)"></div>
<svg style="left:1157.5px;top:496.2px" width="27" height="19" viewBox="0 0 26 18" fill="none" stroke="#172B4D" stroke-width="2.2" stroke-linejoin="round"><path d="M5.4 4.4V2.8a1.6 1.6 0 0 1 1.6-1.6h3.4a1.6 1.6 0 0 1 1.6 1.6V4.4"/><path d="M2.8 9.4V5.4a1 1 0 0 1 1-1H16.6a1 1 0 0 1 1 1V9.4"/><path d="M1.1 9.4H24.9L22.8 16.8H2.2z"/></svg>
<div class="t" style="left:1192.5px;top:497px;font-size:19px;font-weight:700;color:#172B4D;letter-spacing:-.3px">Beta 1.0</div>
<div class="a" style="left:1154.7px;top:540.7px;width:111.9px;height:20.6px;background:#DEEBFF;border-radius:3px"></div>
<div class="t" style="left:1160.9px;top:543.3px;font-size:15px;font-weight:700;color:#0747A6;letter-spacing:-.1px">UNRELEASED</div>
<div class="a" style="left:1154.7px;top:577.8px;width:373.7px;height:5px;border-radius:2.5px;background:linear-gradient(90deg,#0065FF 0,#0065FF 53.5px,#36B37E 53.5px,#36B37E 266.7px,#EBECF0 266.7px)"></div>
<div class="t" style="left:1154.7px;top:602.6px;font-size:19.4px;color:#5E6C84">Basic app functions</div>
<div class="t" style="left:1155.2px;top:671.6px;font-size:16.5px;font-weight:700;color:#5E6C84">Start date</div>
<div class="t" style="left:1278.6px;top:671.6px;font-size:16.5px;font-weight:700;color:#5E6C84">Release date</div>
<div class="t" style="left:1155.2px;top:699.5px;font-size:19px;color:#42526E">2022/07/18</div>
<div class="t" style="left:1278.6px;top:699.5px;font-size:19px;color:#42526E">2022/08/16</div>
<div class="a" style="left:1161.4px;top:744.3px;width:18.7px;height:18.7px;border-radius:3px;background:#0052CC"></div>
<svg style="left:1161.4px;top:744.3px" width="19" height="19" viewBox="0 0 19 19" fill="none" stroke="#fff" stroke-width="2.4" stroke-linecap="round" stroke-linejoin="round"><path d="M5.2 9.6L8.2 12.4L13.6 6.6"/></svg>
<div class="t" style="left:1192.4px;top:743.4px;font-size:19.5px;color:#172B4D">Highlight on timeline</div>
<div class="a" style="left:556px;top:1027px;width:58px;height:57px;border-radius:50%;background:#fff;box-shadow:0 3px 8px rgba(9,30,66,.16),0 0 1px rgba(9,30,66,.25)"></div>
<svg style="left:575px;top:1045px" width="20" height="20" viewBox="0 0 20 20" fill="none" stroke="#172B4D" stroke-width="2"><path d="M10 2.5v15M2.5 10h15"/></svg>
<div class="a btn" style="left:1377.5px;width:85.5px"></div>
<div class="t bt" style="left:1394.3px">Today</div>
<div class="a btn" style="left:1484px;width:339.7px;overflow:hidden"><div class="a" style="left:113.7px;top:0;width:113px;height:100%;background:#253858"></div></div>
<div class="t bt" style="left:1511.5px">Weeks</div>
<div class="t bt" style="left:1621.3px;color:#fff">Months</div>
<div class="t bt" style="left:1729.4px">Quarters</div>
<div class="a btn" style="left:1845px;width:42.7px"></div>
<svg style="left:0;top:0" width="1920" height="1095" viewBox="0 0 1920 1095" fill="none" stroke="#253858" stroke-width="2.4" stroke-linecap="round" stroke-linejoin="round"><path d="M1870.5 1031.5H1877V1038M1877 1031.5L1869.8 1038.7M1863.5 1050.5H1857V1044M1857 1050.5L1864.2 1043.3"/></svg>
</div>
</body></html>
